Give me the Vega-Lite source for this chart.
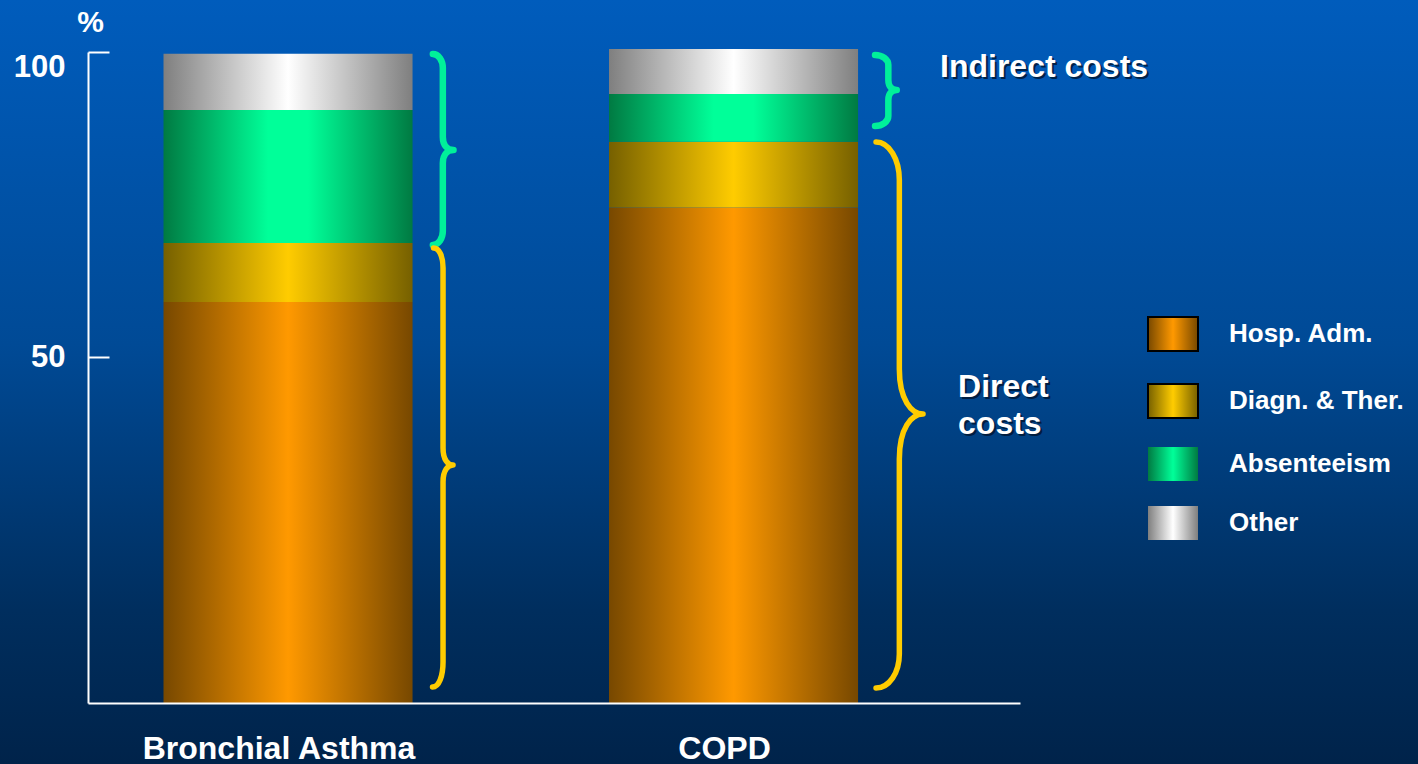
{
  "$schema": "https://vega.github.io/schema/vega-lite/v6.json",
  "width": 1418,
  "height": 764,
  "autosize": {"type": "none"},
  "padding": 0,
  "background": "#003f7f",
  "config": {"view": {"stroke": null}, "font": "Liberation Sans", "axis": {"grid": false}},
  "datasets": {
    "costs": [
      {"disease": "Bronchial Asthma", "component": "Hosp. Adm.", "share": 59.0},
      {"disease": "Bronchial Asthma", "component": "Diagn. & Ther.", "share": 9.7},
      {"disease": "Bronchial Asthma", "component": "Absenteeism", "share": 21.8},
      {"disease": "Bronchial Asthma", "component": "Other", "share": 9.2},
      {"disease": "COPD", "component": "Hosp. Adm.", "share": 74.5},
      {"disease": "COPD", "component": "Diagn. & Ther.", "share": 10.8},
      {"disease": "COPD", "component": "Absenteeism", "share": 7.8},
      {"disease": "COPD", "component": "Other", "share": 7.4}
    ],
    "braces": [
      {"disease": "Bronchial Asthma", "group": "Indirect costs", "brace": "asthma-indirect", "tip": 83.93},
      {"disease": "Bronchial Asthma", "group": "Direct costs", "brace": "asthma-direct", "tip": 34.39},
      {"disease": "COPD", "group": "Indirect costs", "brace": "copd-indirect", "tip": 93.77},
      {"disease": "COPD", "group": "Direct costs", "brace": "copd-direct", "tip": 41.76}
    ],
    "notes": [
      {"disease": "COPD", "kind": "indirect", "text": "Indirect costs", "pos": 95.9},
      {"disease": "COPD", "kind": "direct", "text": "Direct", "pos": 44.22},
      {"disease": "COPD", "kind": "direct", "text": "costs", "pos": 38.87}
    ]
  },
  "layer": [
    {
      "data": {"values": [{}]},
      "mark": {
        "type": "rect",
        "color": {
          "gradient": "linear", "x1": 0, "y1": 0, "x2": 0, "y2": 1,
          "stops": [
            {"offset": 0, "color": "#005cbc"},
            {"offset": 0.45, "color": "#004a96"},
            {"offset": 0.8, "color": "#002e5e"},
            {"offset": 1, "color": "#00234a"}
          ]
        }
      },
      "encoding": {}
    },
    {
      "data": {"name": "costs"},
      "transform": [
        {"calculate": "indexof(['Hosp. Adm.','Diagn. & Ther.','Absenteeism','Other'], datum.component)", "as": "stackOrder"},
        {"stack": "share", "groupby": ["disease"], "sort": [{"field": "stackOrder", "order": "ascending"}], "as": ["y0", "y1"]},
        {"filter": "datum.component == 'Hosp. Adm.'"}
      ],
      "mark": {"type": "bar", "color": {"gradient": "linear", "x1": 0, "y1": 0, "x2": 1, "y2": 0, "stops": [{"offset": 0, "color": "#774800"}, {"offset": 0.5, "color": "#ff9900"}, {"offset": 1, "color": "#774800"}]}},
      "encoding": {
        "x": {
          "field": "disease", "type": "nominal",
          "scale": {"domain": ["Bronchial Asthma", "COPD"], "range": [88, 1020], "paddingInner": 0.441, "paddingOuter": 0.2665, "align": 0.318},
          "axis": {
            "orient": "bottom", "offset": -61, "title": null, "grid": false, "zindex": 1,
            "domainColor": "white", "domainWidth": 2, "ticks": false,
            "labelAngle": 0, "labelFont": "Liberation Sans", "labelFontSize": 32, "labelFontWeight": "bold",
            "labelColor": "white", "labelPadding": 30, "labelOffset": -9, "labelLimit": 600, "labelOverlap": false
          }
        },
        "y": {
          "field": "y1", "type": "quantitative",
          "scale": {"domain": [0, 50, 100], "range": [703, 357, 52], "nice": false, "zero": false},
          "axis": {
            "orient": "left", "offset": -88, "values": [50, 100], "grid": false, "zindex": 1,
            "domainColor": "white", "domainWidth": 2,
            "tickColor": "white", "tickWidth": 2, "tickSize": -21,
            "labelFont": "Liberation Sans", "labelFontSize": 31, "labelFontWeight": "bold",
            "labelColor": "white", "labelPadding": 44, "labelFlush": true,
            "title": "%", "titleAngle": 0, "titleX": 2, "titleY": 22, "titleAlign": "center", "titleBaseline": "middle",
            "titleFont": "Liberation Sans", "titleFontSize": 30, "titleFontWeight": "bold", "titleColor": "white"
          }
        },
        "y2": {"field": "y0"}
      }
    },
    {
      "data": {"name": "costs"},
      "transform": [
        {"calculate": "indexof(['Hosp. Adm.','Diagn. & Ther.','Absenteeism','Other'], datum.component)", "as": "stackOrder"},
        {"stack": "share", "groupby": ["disease"], "sort": [{"field": "stackOrder", "order": "ascending"}], "as": ["y0", "y1"]},
        {"filter": "datum.component == 'Diagn. & Ther.'"}
      ],
      "mark": {"type": "bar", "color": {"gradient": "linear", "x1": 0, "y1": 0, "x2": 1, "y2": 0, "stops": [{"offset": 0, "color": "#766000"}, {"offset": 0.5, "color": "#ffcc00"}, {"offset": 1, "color": "#766000"}]}},
      "encoding": {
        "x": {"field": "disease", "type": "nominal",
          "scale": {"domain": ["Bronchial Asthma", "COPD"], "range": [88, 1020], "paddingInner": 0.441, "paddingOuter": 0.2665, "align": 0.318}},
        "y": {"field": "y1", "type": "quantitative",
          "scale": {"domain": [0, 50, 100], "range": [703, 357, 52], "nice": false, "zero": false}},
        "y2": {"field": "y0"}
      }
    },
    {
      "data": {"name": "costs"},
      "transform": [
        {"calculate": "indexof(['Hosp. Adm.','Diagn. & Ther.','Absenteeism','Other'], datum.component)", "as": "stackOrder"},
        {"stack": "share", "groupby": ["disease"], "sort": [{"field": "stackOrder", "order": "ascending"}], "as": ["y0", "y1"]},
        {"filter": "datum.component == 'Absenteeism'"}
      ],
      "mark": {"type": "bar", "color": {"gradient": "linear", "x1": 0, "y1": 0, "x2": 1, "y2": 0, "stops": [{"offset": 0, "color": "#007a42"}, {"offset": 0.42, "color": "#00ff99"}, {"offset": 0.58, "color": "#00ff99"}, {"offset": 1, "color": "#007a42"}]}},
      "encoding": {
        "x": {"field": "disease", "type": "nominal",
          "scale": {"domain": ["Bronchial Asthma", "COPD"], "range": [88, 1020], "paddingInner": 0.441, "paddingOuter": 0.2665, "align": 0.318}},
        "y": {"field": "y1", "type": "quantitative",
          "scale": {"domain": [0, 50, 100], "range": [703, 357, 52], "nice": false, "zero": false}},
        "y2": {"field": "y0"}
      }
    },
    {
      "data": {"name": "costs"},
      "transform": [
        {"calculate": "indexof(['Hosp. Adm.','Diagn. & Ther.','Absenteeism','Other'], datum.component)", "as": "stackOrder"},
        {"stack": "share", "groupby": ["disease"], "sort": [{"field": "stackOrder", "order": "ascending"}], "as": ["y0", "y1"]},
        {"filter": "datum.component == 'Other'"}
      ],
      "mark": {"type": "bar", "color": {"gradient": "linear", "x1": 0, "y1": 0, "x2": 1, "y2": 0, "stops": [{"offset": 0, "color": "#7f7f7f"}, {"offset": 0.5, "color": "#ffffff"}, {"offset": 1, "color": "#7f7f7f"}]}},
      "encoding": {
        "x": {"field": "disease", "type": "nominal",
          "scale": {"domain": ["Bronchial Asthma", "COPD"], "range": [88, 1020], "paddingInner": 0.441, "paddingOuter": 0.2665, "align": 0.318}},
        "y": {"field": "y1", "type": "quantitative",
          "scale": {"domain": [0, 50, 100], "range": [703, 357, 52], "nice": false, "zero": false}},
        "y2": {"field": "y0"}
      }
    },
    {
      "data": {"name": "costs"},
      "transform": [{"filter": "false"}],
      "mark": {"type": "square", "filled": true, "opacity": 1},
      "encoding": {
        "color": {
          "field": "component", "type": "nominal",
          "scale": {
            "domain": ["Hosp. Adm.", "Diagn. & Ther.", "Absenteeism", "Other"],
            "range": [
              {"expr": "{gradient:'linear',x1:0,y1:0,x2:1,y2:0,stops:[{offset:0,color:'#774800'},{offset:0.5,color:'#ff9900'},{offset:1,color:'#774800'}]}"},
              {"expr": "{gradient:'linear',x1:0,y1:0,x2:1,y2:0,stops:[{offset:0,color:'#766000'},{offset:0.5,color:'#ffcc00'},{offset:1,color:'#766000'}]}"},
              {"expr": "{gradient:'linear',x1:0,y1:0,x2:1,y2:0,stops:[{offset:0,color:'#007a42'},{offset:0.5,color:'#00ff99'},{offset:1,color:'#007a42'}]}"},
              {"expr": "{gradient:'linear',x1:0,y1:0,x2:1,y2:0,stops:[{offset:0,color:'#7f7f7f'},{offset:0.5,color:'#ffffff'},{offset:1,color:'#7f7f7f'}]}"}
            ]
          },
          "legend": {
            "orient": "none", "legendX": 1160, "legendY": 321, "title": null, "padding": 0,
            "symbolType": "M-1,-0.68H1V0.68H-1Z", "symbolSize": 2500, "symbolOpacity": 1,
            "symbolStrokeColor": "black", "symbolStrokeWidth": 2,
            "labelFont": "Liberation Sans", "labelFontSize": 26, "labelFontWeight": "bold", "labelColor": "white",
            "labelOffset": 43, "rowPadding": 25, "labelLimit": 400,
            "encoding": {
              "symbols": {
                "stroke": {"value": "black"},
                "strokeWidth": {"value": {"expr": "indexof(['Hosp. Adm.','Diagn. & Ther.'], datum.value) >= 0 ? 2 : 0"}},
                "opacity": {"value": 1}
              }
            }
          }
        }
      }
    },
    {
      "data": {"name": "braces"},
      "mark": {"type": "point", "filled": false, "size": 4, "strokeCap": "round", "strokeJoin": "round", "opacity": 1},
      "encoding": {
        "x": {"field": "disease", "type": "nominal",
          "scale": {"domain": ["Bronchial Asthma", "COPD"], "range": [88, 1020], "paddingInner": 0.441, "paddingOuter": 0.2665, "align": 0.318}},
        "y": {"field": "tip", "type": "quantitative",
          "scale": {"domain": [0, 50, 100], "range": [703, 357, 52], "nice": false, "zero": false}},
        "shape": {
          "field": "brace", "type": "nominal", "legend": null,
          "scale": {
            "domain": ["asthma-indirect", "asthma-direct", "copd-indirect", "copd-direct"],
            "range": [
              "M144.8,-96C150.4,-96 154.8,-89.7 154.8,-82L154.8,-13C154.8,-4 160,0 165.5,0C160,0 154.8,4 154.8,13L154.8,81C154.8,88.7 150.4,95 144.8,95",
              "M145.5,-217C151,-217 155,-209 155,-197L155,-17C155,-5 160,0 165,0C160,0 155,5 155,17L155,197C155,211 151,222 144.5,222",
              "M141.5,-35C148.8,-35 154.8,-30.5 154.8,-25L154.8,-10C154.8,-3 159,0 163.2,0C159,0 154.8,3 154.8,10L154.8,26C154.8,31.5 148.8,36 141.5,36",
              "M142.5,-272C155.5,-272 165.8,-255 165.8,-234L165.8,-45C165.8,-14 178,0 189.5,0C178,0 165.8,14 165.8,45L165.8,240C165.8,259 155.5,274 142.5,274"
            ]
          }
        },
        "stroke": {
          "field": "group", "type": "nominal", "legend": null,
          "scale": {"domain": ["Indirect costs", "Direct costs"], "range": ["#00f09a", "#ffcc00"]}
        },
        "strokeWidth": {
          "field": "group", "type": "nominal", "legend": null,
          "scale": {"domain": ["Indirect costs", "Direct costs"], "range": [6.5, 5.5]}
        }
      }
    },
    {
      "data": {"name": "notes"},
      "transform": [{"filter": "datum.kind == 'indirect'"}],
      "mark": {"type": "text", "align": "left", "baseline": "alphabetic", "dx": 208.5, "dy": 2, "font": "Liberation Sans", "fontSize": 32, "fontWeight": "bold", "color": "#001530", "opacity": 0.8},
      "encoding": {
        "x": {"field": "disease", "type": "nominal",
          "scale": {"domain": ["Bronchial Asthma", "COPD"], "range": [88, 1020], "paddingInner": 0.441, "paddingOuter": 0.2665, "align": 0.318}},
        "y": {"field": "pos", "type": "quantitative",
          "scale": {"domain": [0, 50, 100], "range": [703, 357, 52], "nice": false, "zero": false}},
        "text": {"field": "text"}
      }
    },
    {
      "data": {"name": "notes"},
      "transform": [{"filter": "datum.kind == 'indirect'"}],
      "mark": {"type": "text", "align": "left", "baseline": "alphabetic", "dx": 206.5, "font": "Liberation Sans", "fontSize": 32, "fontWeight": "bold", "color": "white"},
      "encoding": {
        "x": {"field": "disease", "type": "nominal",
          "scale": {"domain": ["Bronchial Asthma", "COPD"], "range": [88, 1020], "paddingInner": 0.441, "paddingOuter": 0.2665, "align": 0.318}},
        "y": {"field": "pos", "type": "quantitative",
          "scale": {"domain": [0, 50, 100], "range": [703, 357, 52], "nice": false, "zero": false}},
        "text": {"field": "text"}
      }
    },
    {
      "data": {"name": "notes"},
      "transform": [{"filter": "datum.kind == 'direct'"}],
      "mark": {"type": "text", "align": "left", "baseline": "alphabetic", "dx": 226.5, "dy": 2, "font": "Liberation Sans", "fontSize": 32, "fontWeight": "bold", "color": "#001530", "opacity": 0.8},
      "encoding": {
        "x": {"field": "disease", "type": "nominal",
          "scale": {"domain": ["Bronchial Asthma", "COPD"], "range": [88, 1020], "paddingInner": 0.441, "paddingOuter": 0.2665, "align": 0.318}},
        "y": {"field": "pos", "type": "quantitative",
          "scale": {"domain": [0, 50, 100], "range": [703, 357, 52], "nice": false, "zero": false}},
        "text": {"field": "text"}
      }
    },
    {
      "data": {"name": "notes"},
      "transform": [{"filter": "datum.kind == 'direct'"}],
      "mark": {"type": "text", "align": "left", "baseline": "alphabetic", "dx": 224.5, "font": "Liberation Sans", "fontSize": 32, "fontWeight": "bold", "color": "white"},
      "encoding": {
        "x": {"field": "disease", "type": "nominal",
          "scale": {"domain": ["Bronchial Asthma", "COPD"], "range": [88, 1020], "paddingInner": 0.441, "paddingOuter": 0.2665, "align": 0.318}},
        "y": {"field": "pos", "type": "quantitative",
          "scale": {"domain": [0, 50, 100], "range": [703, 357, 52], "nice": false, "zero": false}},
        "text": {"field": "text"}
      }
    }
  ]
}
